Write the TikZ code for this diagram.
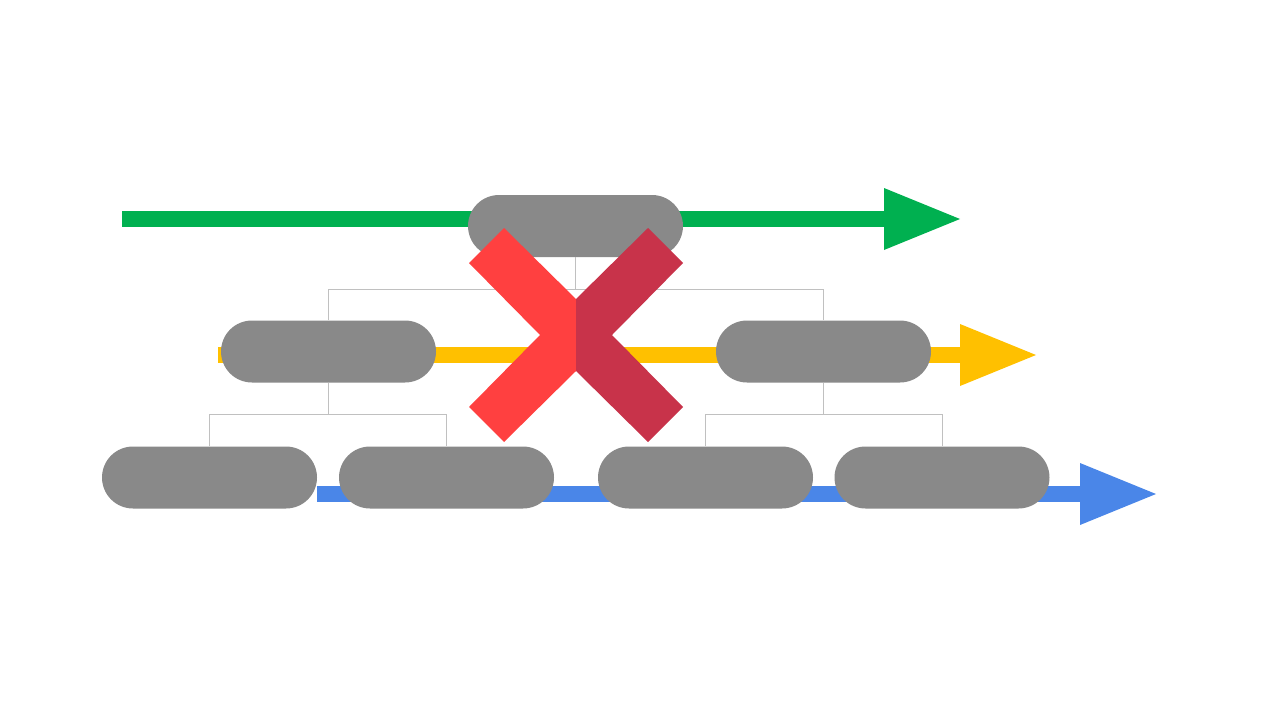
\documentclass[tikz,border=0pt]{standalone}
\definecolor{tlgreen}{HTML}{00B050}
\definecolor{tlyellow}{HTML}{FFC000}
\definecolor{tlblue}{HTML}{4A86E8}
\definecolor{pillgray}{HTML}{898989}
\definecolor{conngray}{HTML}{C0C0C0}
\definecolor{xlight}{HTML}{FF4040}
\definecolor{xdark}{HTML}{C8334A}
\tikzset{
  pill/.style={fill=pillgray, draw=none, rounded corners=31pt, minimum width=215pt, minimum height=62pt, inner sep=0pt},
  shaft/.style={line width=16pt},
  conn/.style={draw=conngray, line width=1pt},
}
\begin{document}
\begin{tikzpicture}[x=1pt,y=-1pt]
\useasboundingbox (0,0) rectangle (1280,720);
% timelines (under the pills)
\coordinate (g0) at (122,219);
\coordinate (gh) at (884,219);
\coordinate (g1) at (960,219);
\coordinate (y0) at (218,355);
\coordinate (yh) at (960,355);
\coordinate (y1) at (1036,355);
\coordinate (b0) at (317,494);
\coordinate (bh) at (1080,494);
\coordinate (b1) at (1156,494);
\draw[shaft, tlgreen] (g0) -- (gh);
\fill[tlgreen] (g1) -- ([yshift=-31pt]gh) -- ([yshift=31pt]gh) -- cycle;
\draw[shaft, tlyellow] (y0) -- (yh);
\fill[tlyellow] (y1) -- ([yshift=-31pt]yh) -- ([yshift=31pt]yh) -- cycle;
\draw[shaft, tlblue] (b0) -- (bh);
\fill[tlblue] (b1) -- ([yshift=-31pt]bh) -- ([yshift=31pt]bh) -- cycle;
% pills
\node[pill] (top) at (575.5,226) {};
\node[pill] (ml) at (328.5,351.5) {};
\node[pill] (mr) at (823.5,351.5) {};
\node[pill] (b1n) at (209.5,477.5) {};
\node[pill] (b2n) at (446.5,477.5) {};
\node[pill] (b3n) at (705.5,477.5) {};
\node[pill] (b4n) at (942,477.5) {};
% tree connectors
\draw[conn] (top.south) -- ++(0,32) coordinate (j1);
\draw[conn] (ml.north) |- (j1) -| (mr.north);
\draw[conn] (ml.south) -- ++(0,32) coordinate (j2);
\draw[conn] (b1n.north) |- (j2) -| (b2n.north);
\draw[conn] (mr.south) -- ++(0,32) coordinate (j3);
\draw[conn] (b3n.north) |- (j3) -| (b4n.north);
% red X
\begin{scope}[shift={(576,335)}]
\fill[xlight] (0,-36) -- (-72,-107) -- (-107,-72) -- (-36,0) -- (-107,72) -- (-72,107) -- (0,36) -- cycle;
\fill[xdark] (0,-36) -- (72,-107) -- (107,-72) -- (36,0) -- (107,72) -- (72,107) -- (0,36) -- cycle;
\end{scope}
\end{tikzpicture}
\end{document}
